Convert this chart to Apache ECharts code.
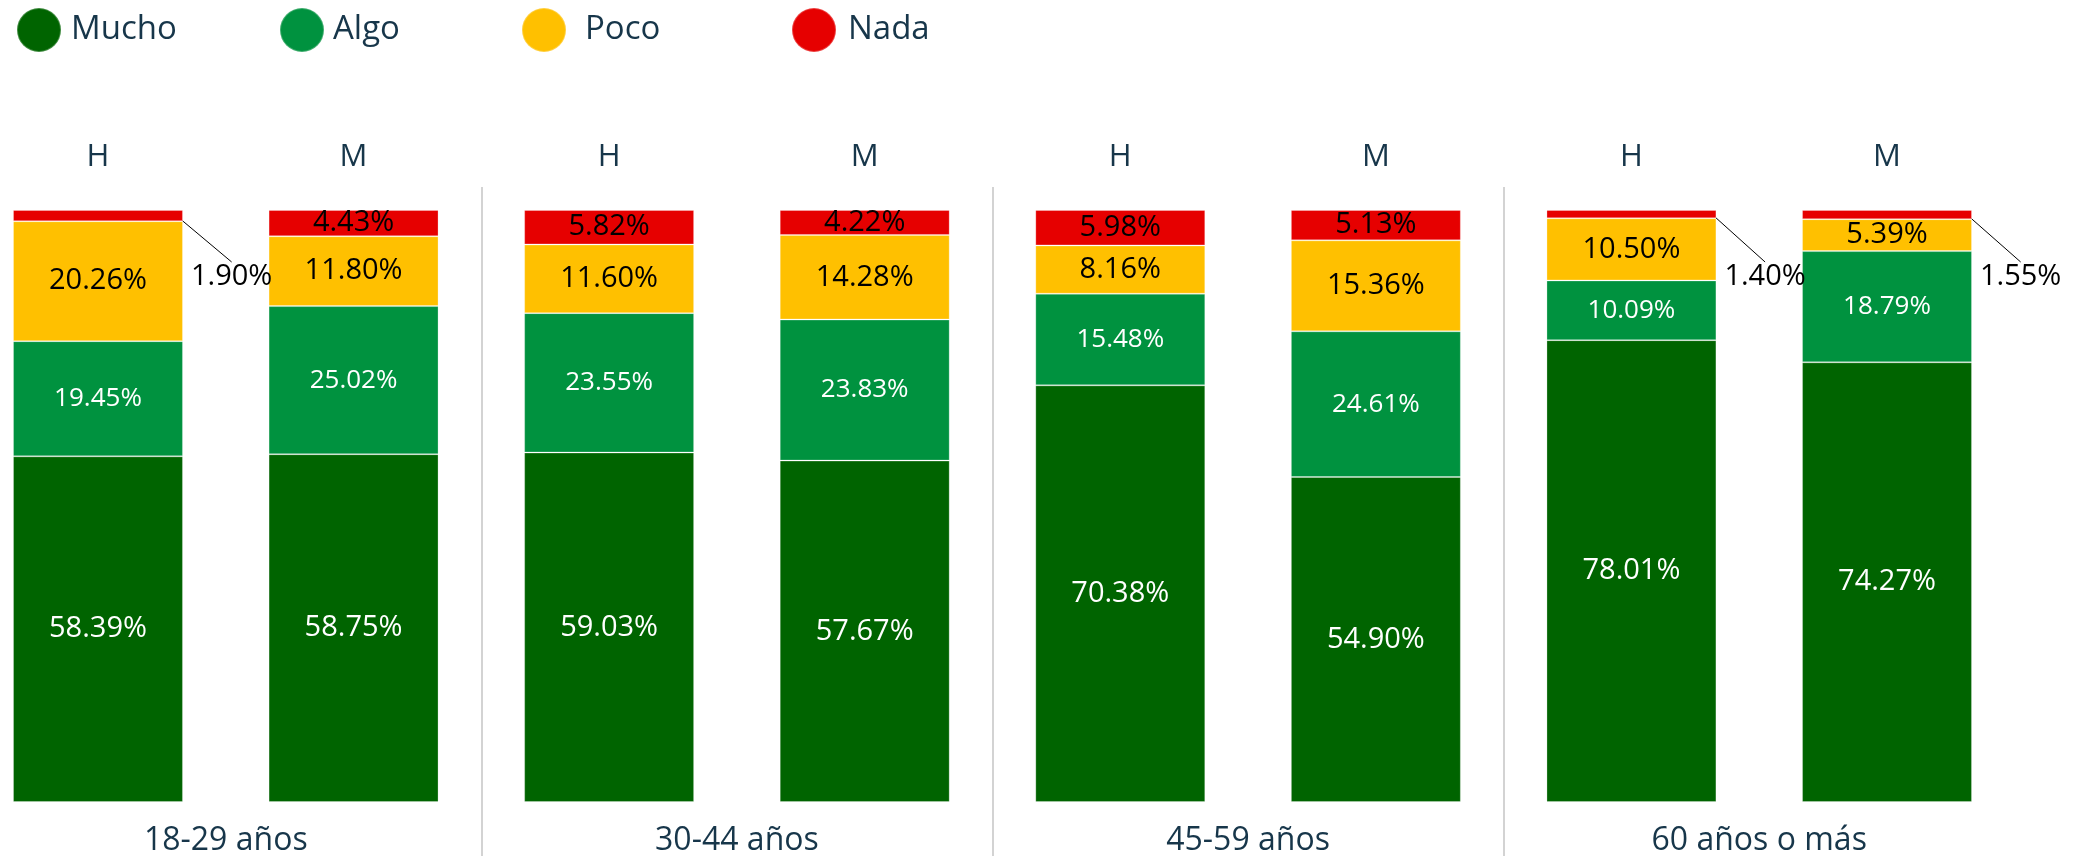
<!DOCTYPE html>
<html>
<head>
<meta charset="utf-8">
<script src="https://cdn.jsdelivr.net/npm/echarts@6/dist/echarts.min.js"></script>
<style>
	html, body { margin: 0; padding: 0; background: #fff; }
	#chart { width: 2085px; height: 856px; }
</style>
</head>
<body>
<div id="chart"></div>
<script>
// bars, two per age group
var barLabels = ['H', 'M', 'H', 'M', 'H', 'M', 'H', 'M'];
var ageGroups = ['18-29 años', '30-44 años', '45-59 años', '60 años o más'];

// percentages per bar
var mucho = [58.39, 58.75, 59.03, 57.67, 70.38, 54.90, 78.01, 74.27];
var algo = [19.45, 25.02, 23.55, 23.83, 15.48, 24.61, 10.09, 18.79];
var poco = [20.26, 11.80, 11.60, 14.28, 8.16, 15.36, 10.50, 5.39];
var nada = [1.90, 4.43, 5.82, 4.22, 5.98, 5.13, 1.40, 1.55];

var font = 'Open Sans';
var textColor = '#17364a';

function makeLegend(name, left, pad) {
	return {
		data: [name],
		left: left,
		top: 7,
		padding: 0,
		icon: 'circle',
		itemWidth: 44,
		itemHeight: 44,
		textStyle: { fontSize: 33, color: textColor, fontFamily: font, padding: [0, 0, 0, pad] },
	};
}

function segment(name, values, color, labelColor, fontSize) {
	return {
		name: name,
		type: 'bar',
		stack: 'total',
		barWidth: '66.5%',
		data: values,
		itemStyle: { color: color, borderColor: 'rgba(255,255,255,0.25)', borderWidth: 1 },
		label: {
			show: true,
			position: 'inside',
			color: labelColor,
			fontSize: fontSize,
			fontFamily: font,
			formatter: (p) => p.value.toFixed(2) + '%',
		},
		emphasis: { disabled: true },
	};
}

var nadaSeries = segment(
	'Nada',
	nada.map((v) => {
		if (v >= 2.5) return v;
		return {
			value: v,
			// transparent box below the text so the leader line meets the label's top
			label: { backgroundColor: 'transparent', padding: [0, 0, 34, 0] },
			labelLine: { show: true, lineStyle: { color: '#000', width: 1 } },
		};
	}),
	'#e60000',
	'#000',
	29
);
// small values get their label pulled out to the right with a leader line
nadaSeries.labelLayout = function(p) {
	if (nada[p.dataIndex] >= 2.5) return {};
	return {
		x: p.rect.x + p.rect.width + 8,
		y: p.rect.y + 52,
		align: 'left',
		verticalAlign: 'top',
	};
};

var chart = echarts.init(document.getElementById('chart'));
var option = {
	animation: false,
	legend: [
		makeLegend('Mucho', 16, 5),
		makeLegend('Algo', 279, 4),
		makeLegend('Poco', 521, 14),
		makeLegend('Nada', 791, 7),
	],
	// grid runs from the separator tops to the page bottom, y range set so 0..100 sits at 802..210
	grid: { left: -29.8, right: 70.2, top: 187, bottom: 0, outerBoundsMode: 'none' },
	xAxis: [
		{
			type: 'category',
			data: barLabels,
			position: 'top',
			axisLine: { show: false },
			axisTick: { show: false },
			axisLabel: { color: textColor, fontSize: 31, fontFamily: font, margin: 14 },
		},
		{
			type: 'category',
			data: ageGroups,
			position: 'bottom',
			axisLine: { show: false },
			axisTick: { show: false },
			axisLabel: { inside: true, margin: -1, color: textColor, fontSize: 32, fontFamily: font },
			splitLine: {
				show: true,
				showMinLine: false,
				showMaxLine: false,
				lineStyle: { color: '#c4c4c4', width: 1.5 },
			},
		},
	],
	yAxis: { type: 'value', min: -9.1216, max: 103.885, show: false },
	series: [
		segment('Mucho', mucho, '#006400', '#fff', 29),
		segment('Algo', algo, '#00923f', '#fff', 26),
		segment('Poco', poco, '#ffc000', '#000', 29),
		nadaSeries,
	],
};
option && chart.setOption(option);
</script>
</body>
</html>
